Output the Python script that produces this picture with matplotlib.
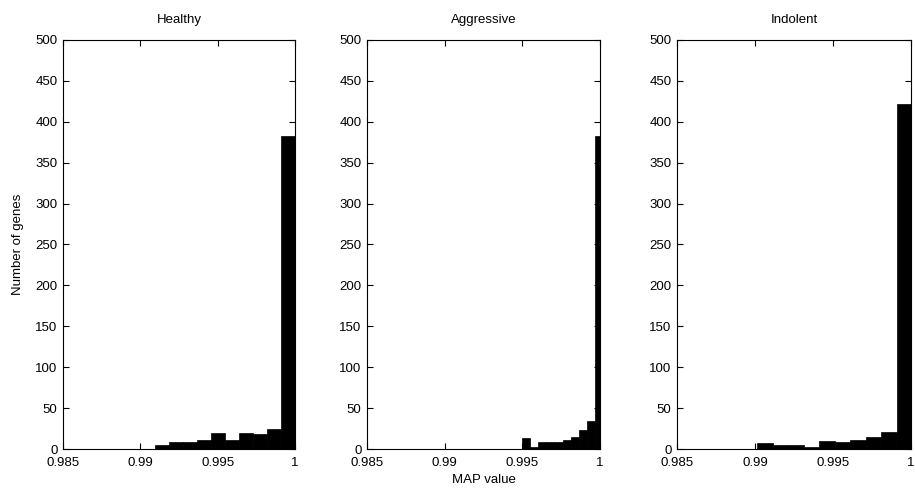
import numpy as np
import matplotlib.pyplot as plt

plt.rcParams['font.family'] = ['Liberation Sans', 'DejaVu Sans']

# histogram bins per group: first edge, bin width, counts
titles = ['Healthy', 'Aggressive', 'Indolent']
bin_start = [0.99095, 0.99498, 0.99013]
bin_width = [0.000905, 0.000522, 0.000995]
healthy_counts = [5, 8, 9, 11, 19, 11, 20, 18, 25, 383]
aggressive_counts = [14, 3, 8, 9, 9, 11, 15, 23, 34, 383]
indolent_counts = [7, 5, 5, 2, 10, 8, 11, 15, 21, 422]
counts = [healthy_counts, aggressive_counts, indolent_counts]

x_ticks = [0.985, 0.99, 0.995, 1.0]
x_ticklabels = ['0.985', '0.99', '0.995', '1']
y_ticks = list(range(0, 501, 50))

fig = plt.figure(figsize=(9.15, 4.98), dpi=100)
W, H = 915, 498
# axes boxes in pixels: left, right
boxes = [(63, 295), (367, 600), (677, 911)]
top, bottom = 40, 449

for i, (l, r) in enumerate(boxes):
    ax = fig.add_axes([l / W, 1 - bottom / H, (r - l) / W, (bottom - top) / H])
    c = np.array(counts[i])
    edges = bin_start[i] + bin_width[i] * np.arange(len(c))
    ax.bar(edges, c, width=bin_width[i], align='edge', color='black',
           edgecolor='black', linewidth=0.5)
    ax.set_xlim(0.985, 1.0)
    ax.set_ylim(0, 500)
    ax.set_xticks(x_ticks)
    ax.set_xticklabels(x_ticklabels)
    ax.set_yticks(y_ticks)
    ax.tick_params(direction='in', top=True, right=True, labelsize=9.5,
                   length=4, width=0.8)
    ax.tick_params(axis='x', pad=6)
    ax.tick_params(axis='y', pad=4)
    for s in ax.spines.values():
        s.set_linewidth(0.8)
    ax.set_title(titles[i], fontsize=9.5, pad=12)
    if i == 0:
        ax.set_ylabel('Number of genes', fontsize=9.5, labelpad=8)
    if i == 1:
        ax.set_xlabel('MAP value', fontsize=9.5, labelpad=3)

fig.savefig('out.png', dpi=100)
